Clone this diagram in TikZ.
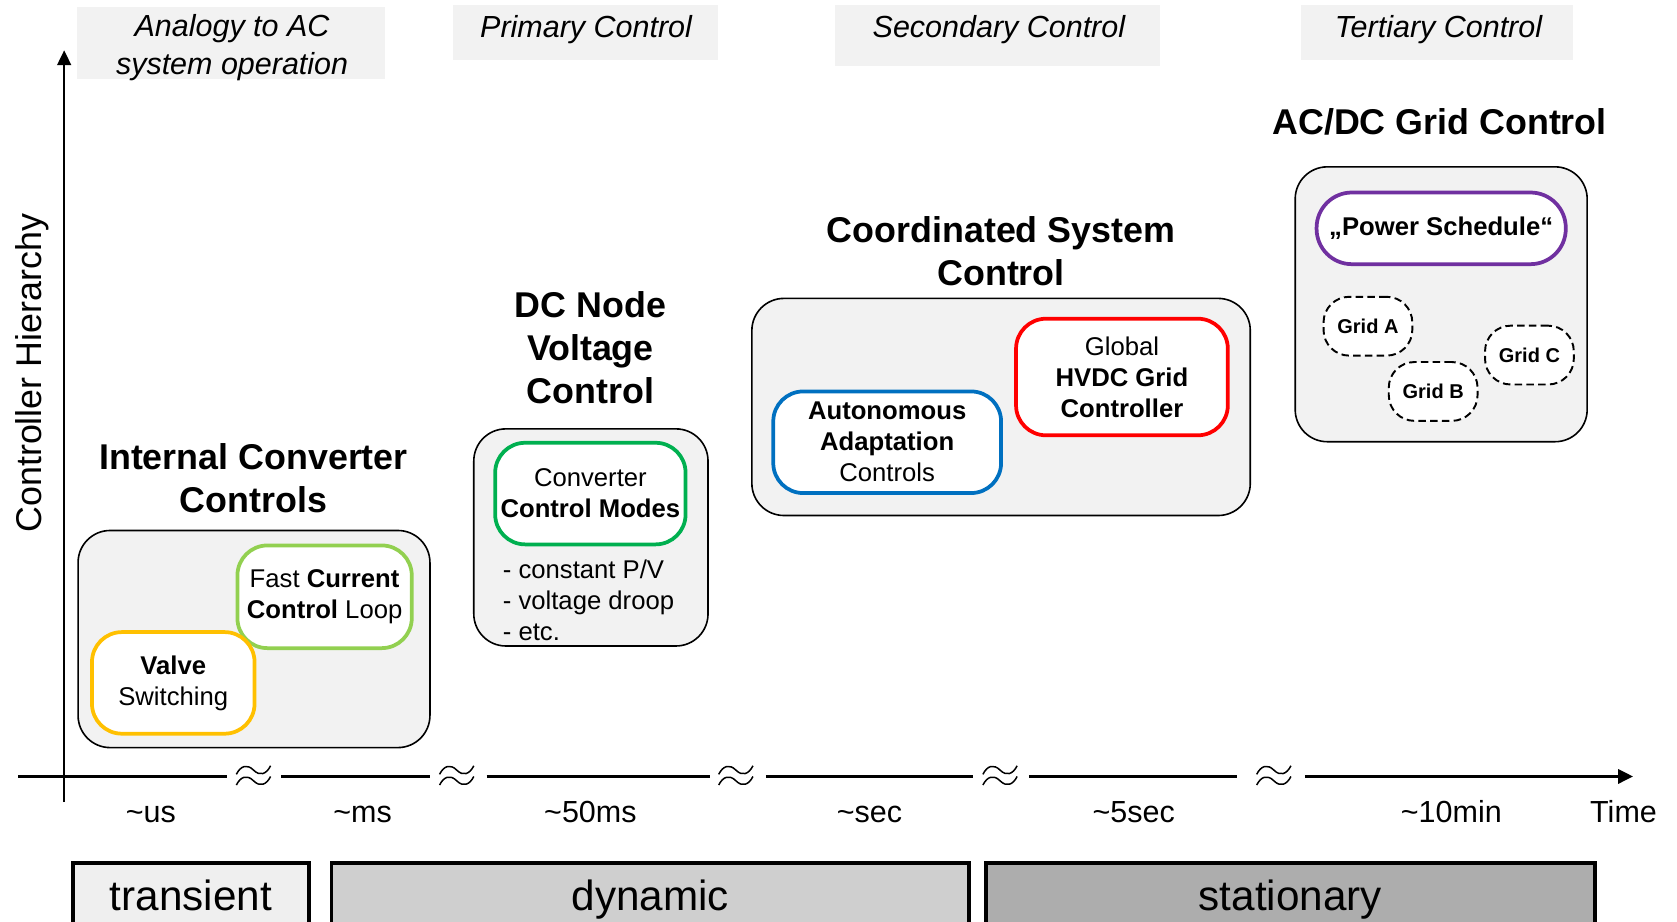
\documentclass[tikz,border=0pt]{standalone}
\usepackage{fontspec}
\setmainfont{Liberation Sans}
\usetikzlibrary{arrows.meta}

\definecolor{panelgray}{HTML}{F2F2F2}
\definecolor{tagfill}{HTML}{F2F2F2}
\definecolor{barA}{HTML}{EFEFEF}
\definecolor{barB}{HTML}{CFCFCF}
\definecolor{barC}{HTML}{ADADAD}
\definecolor{cLime}{HTML}{92D050}
\definecolor{cAmber}{HTML}{FFC000}
\definecolor{cGreen}{HTML}{00B050}
\definecolor{cBlue}{HTML}{0070C0}
\definecolor{cRed}{HTML}{FF0000}
\definecolor{cPurple}{HTML}{7030A0}

\begin{document}
\begin{tikzpicture}[x=1pt,y=-1pt,
  head/.style={font=\fontsize{33.5}{40}\selectfont\bfseries, align=center, inner sep=0},
  tagbox/.style={fill=tagfill, inner sep=0},
  tagtxt/.style={font=\fontsize{28.5}{35}\selectfont\itshape, align=center, inner sep=0},
  panel/.style={draw=black, line width=1.5pt, fill=panelgray, rounded corners=30pt, inner sep=0},
  inbox/.style={line width=3.5pt, fill=white, rounded corners=28pt, align=center,
                inner sep=0, font=\fontsize{24}{29}\selectfont},
  gridbox/.style={draw=black, dash pattern=on 7pt off 4pt, line width=1.8pt, fill=white,
                  rounded corners=24pt, minimum width=83pt, minimum height=55pt, inner sep=0,
                  font=\fontsize{18.7}{22}\selectfont\bfseries},
  ticklbl/.style={font=\fontsize{28.5}{34}\selectfont, inner sep=0, text height=20pt, text depth=0pt},
  phase/.style={draw=black, line width=3.5pt, anchor=north, minimum height=62pt, inner sep=0,
                text height=28pt, text depth=0pt, font=\fontsize{39.5}{47}\selectfont},
  axisline/.style={line width=3pt},
  brk/.pic={
    \foreach \dy in {-7,3}{
      \draw[line width=1.4pt]
        (-16,\dy+4) .. controls (-12,\dy-4) and (-6,\dy-6) .. (0,\dy)
        .. controls (6,\dy+6) and (12,\dy+4) .. (16,\dy-4);
    }
  }
]
\useasboundingbox (0,0) rectangle (1568,862);
\clip (0,0) rectangle (1568,862);

% --- top category tags
\node[tagbox, minimum width=288pt, minimum height=67pt] (tag1) at (216,40.5) {};
\node[tagtxt] (tag1t) at (217,44.5) {Analogy to AC\\system operation};
\node[tagbox, minimum width=247pt, minimum height=51pt] (tag2) at (547.5,30.5) {};
\node[tagtxt] (tag2t) at (548,28) {Primary Control};
\node[tagbox, minimum width=304pt, minimum height=57pt] (tag3) at (933,33.5) {};
\node[tagtxt] (tag3t) at (934,28) {Secondary Control};
\node[tagbox, minimum width=255pt, minimum height=51pt] (tag4) at (1343.5,30.5) {};
\node[tagtxt] (tag4t) at (1345,28) {Tertiary Control};

% --- axes
\coordinate (vbot) at (60,750);
\coordinate (vtop) at (60,47);
\draw[line width=2pt, -{Triangle[length=14pt,width=13pt]}] (vbot) -- (vtop);
\node[rotate=90, font=\fontsize{33.5}{40}\selectfont, inner sep=0] (ylab) at (30,349) {Controller Hierarchy};

\coordinate (h0) at (17,726);
\coordinate (h1a) at (212,726);  \coordinate (h1b) at (263,726);
\coordinate (h2a) at (402,726);  \coordinate (h2b) at (455,726);
\coordinate (h3a) at (664,726);  \coordinate (h3b) at (716,726);
\coordinate (h4a) at (910,726);  \coordinate (h4b) at (962,726);
\coordinate (h5a) at (1157,726); \coordinate (h5b) at (1220,726);
\coordinate (hend) at (1527,726);
\draw[axisline] (h0) -- (h1a);
\draw[axisline] (h1b) -- (h2a);
\draw[axisline] (h2b) -- (h3a);
\draw[axisline] (h3b) -- (h4a);
\draw[axisline] (h4b) -- (h5a);
\draw[axisline, -{Triangle[length=14pt,width=13pt]}] (h5b) -- (hend);

\pic at (237,727) {brk};
\pic at (427,727) {brk};
\pic at (688,727) {brk};
\pic at (935,727) {brk};
\pic at (1191,727) {brk};

\node[ticklbl] (t1) at (141,759) {\textasciitilde us};
\node[ticklbl] (t2) at (339,759) {\textasciitilde ms};
\node[ticklbl] (t3) at (552,759) {\textasciitilde 50ms};
\node[ticklbl] (t4) at (813,759) {\textasciitilde sec};
\node[ticklbl] (t5) at (1060,759) {\textasciitilde 5sec};
\node[ticklbl] (t6) at (1357,759) {\textasciitilde 10min};
\node[ticklbl] (t7) at (1518,759) {Time};

% --- internal converter controls
\node[head] (h1) at (237,447) {Internal Converter\\Controls};
\node[panel, minimum width=329pt, minimum height=203pt] (p1) at (237.5,597.5) {};
\node[inbox, draw=cLime, minimum width=163pt, minimum height=96pt] (fast) at (303.5,558)
  {Fast \textbf{Current}\\\textbf{Control} Loop};
\node[inbox, draw=cAmber, minimum width=152pt, minimum height=95pt] (valve) at (162,638.5)
  {\textbf{Valve}\\Switching};

% --- DC node voltage control
\node[head] (h2) at (552,325) {DC Node\\Voltage\\Control};
\node[panel, minimum width=219pt, minimum height=203pt] (p2) at (552.5,502.5) {};
\node[inbox, draw=cGreen, minimum width=178pt, minimum height=95pt] (modes) at (552,461.5)
  {Converter\\\textbf{Control Modes}};
\node[anchor=west, align=left, inner sep=0, font=\fontsize{24}{29}\selectfont] (modelist) at (470,561)
  {- constant P/V\\- voltage droop\\- etc.};

% --- coordinated system control
\node[head] (h3) at (936,235) {Coordinated System\\Control};
\node[panel, minimum width=466pt, minimum height=203pt] (p3) at (936,380.5) {};
\node[inbox, draw=cBlue, minimum width=213pt, minimum height=95pt] (auto) at (829.5,413.5)
  {\textbf{Autonomous}\\\textbf{Adaptation}\\Controls};
\node[inbox, draw=cRed, minimum width=198pt, minimum height=109pt] (hvdc) at (1049,352.5)
  {Global\\\textbf{HVDC Grid}\\\textbf{Controller}};

% --- AC/DC grid control
\node[head] (h4) at (1346,114) {AC/DC Grid Control};
\node[panel, minimum width=273pt, minimum height=257pt] (p4) at (1347.5,284.5) {};
\node[inbox, draw=cPurple, rounded corners=33pt, minimum width=233pt, minimum height=67pt] (sched)
  at (1347.5,213.5) {\textbf{„Power Schedule“}};
\node[gridbox] (ga) at (1279,305) {Grid A};
\node[gridbox] (gb) at (1340,366) {Grid B};
\node[gridbox] (gc) at (1430,332) {Grid C};

% --- time-scale phases
\node[phase, fill=barA, minimum width=221pt] (ph1) at (178.5,805) {transient};
\node[phase, fill=barB, minimum width=596pt] (ph2) at (608,805) {dynamic};
\node[phase, fill=barC, minimum width=569pt] (ph3) at (1206.5,805) {stationary};
\end{tikzpicture}
\end{document}
